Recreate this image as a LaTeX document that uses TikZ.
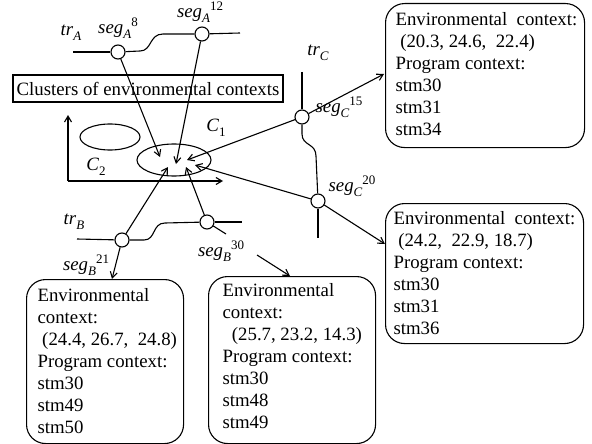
\documentclass[tikz,border=0pt]{standalone}
\usepackage{fontspec}
\setmainfont{Liberation Serif}
\usetikzlibrary{arrows.meta,shapes.geometric}

% italic name with a lowered subscript and a raised index, as in seg_A^8
\newcommand\lowsub[1]{\raisebox{-5pt}{\fontsize{13}{13}\selectfont\itshape #1}}
\newcommand\highsup[1]{\raisebox{7pt}{\fontsize{13}{13}\selectfont #1}}
\newcommand\seglab[2]{\textit{seg}\lowsub{#1}\highsup{#2}}
\newcommand\trlab[1]{\textit{tr}\lowsub{#1}}
\newcommand\clab[1]{\textit{C}\lowsub{\upshape #1}}
\newcommand\lead{\hspace*{0.25em}}

\begin{document}
\begin{tikzpicture}[x=1pt,y=-1pt,
  line width=1.1pt,
  every node/.style={font=\fontsize{18.8}{22}\selectfont},
  segpt/.style={circle,draw,fill=white,minimum size=14pt,inner sep=0pt},
  arr/.style={-{Straight Barb[length=6pt,width=7pt]}},
  ctxframe/.style={draw,rounded corners=19pt,anchor=north west,inner sep=0pt},
  ctxtext/.style={align=left,anchor=north west,inner sep=0pt},
  lab/.style={inner sep=0pt}]
\useasboundingbox (0,0) rectangle (592,444);

% cluster space: axes and the two clusters
\coordinate (ax0) at (68,181);
\coordinate (axy) at (68,115);
\coordinate (axx) at (223,181);
\draw[arr] (ax0) -- (axy);
\draw[arr] (ax0) -- (axx);
\node[ellipse,draw,minimum width=60pt,minimum height=26pt,inner sep=0pt] (C2) at (110,137) {};
\node[ellipse,draw,minimum width=74pt,minimum height=32pt,inner sep=0pt] (C1) at (174,160) {};
\node[lab] (C1l) at (216,128) {\clab{1}};
\node[lab] (C2l) at (96,167) {\clab{2}};

\node[draw,minimum width=270pt,minimum height=27pt,inner sep=0pt] (clusters) at (148,88.5)
  {Clusters of environmental contexts};

% trajectory A
\node[segpt] (a8) at (118,52) {};
\node[segpt] (a12) at (202,34) {};
\coordinate (trA0) at (73,52);
\coordinate (trA1) at (140,51);
\coordinate (trA2) at (163,34);
\coordinate (trA3) at (240,33);
\draw (trA0) -- (a8);
\draw (a8) -- (trA1) .. controls (152,51) and (149,34) .. (trA2) -- (a12);
\draw (a12) -- (trA3);
\node[lab] (trAl) at (71,33) {\trlab{A}};
\node[lab] (a8l) at (118,28) {\seglab{A}{8}};
\node[lab] (a12l) at (200,12) {\seglab{A}{12}};

% trajectory B
\node[segpt] (b21) at (122,240) {};
\node[segpt] (b30) at (207,222) {};
\coordinate (trB0) at (77,239);
\coordinate (trB1) at (144,240);
\coordinate (trB2) at (165,223);
\coordinate (trB3) at (242,222);
\coordinate (b30stub) at (226,234);
\draw (trB0) -- (b21);
\draw (b21) -- (trB1) .. controls (156,240) and (152,223) .. (trB2) -- (b30);
\draw (b30) -- (trB3);
\draw (b30) -- (b30stub);
\node[lab] (trBl) at (74,222) {\trlab{B}};
\node[lab] (b21l) at (86,265) {\seglab{B}{21}};
\node[lab] (b30l) at (221,251) {\seglab{B}{30}};

% trajectory C
\node[segpt] (c15) at (302,117) {};
\node[segpt] (c20) at (318,201) {};
\coordinate (trC0) at (302,72);
\coordinate (trC1) at (302,134);
\coordinate (trC2) at (316,156);
\coordinate (trC3) at (318,238);
\draw (trC0) -- (c15);
\draw (c15) -- (trC1) .. controls (302,146) and (316,143) .. (trC2) -- (c20);
\draw (c20) -- (trC3);
\node[lab] (trCl) at (318,53) {\trlab{C}};
\node[lab] (c15l) at (339,107) {\seglab{C}{15}};
\node[lab] (c20l) at (352,186) {\seglab{C}{20}};

% segments assigned to cluster C1
\coordinate (t8) at (160,157);
\coordinate (t12) at (176,164);
\coordinate (t15) at (187,160);
\coordinate (t20) at (195,165);
\coordinate (t21) at (168,167);
\coordinate (t30) at (186,167);
\draw[arr] (a8) -- (t8);
\draw[arr] (a12) -- (t12);
\draw[arr] (c15) -- (t15);
\draw[arr] (c20) -- (t20);
\draw[arr] (b21) -- (t21);
\draw[arr] (b30) -- (t30);

% context boxes: rounded frame plus left-aligned text block
\node[ctxframe,minimum width=199pt,minimum height=144pt] (ctx15) at (385,3) {};
\node[ctxtext] (ctx15t) at (395,12)
  {Environmental\ \ context:\\ \lead(20.3, 24.6,\ \ 22.4)\\ Program context:\\ stm30\\ stm31\\ stm34};
\node[ctxframe,minimum width=198pt,minimum height=140pt] (ctx20) at (385,203) {};
\node[ctxtext] (ctx20t) at (393,211)
  {Environmental\ \ context:\\ \lead(24.2,\ \ 22.9, 18.7)\\ Program context:\\ stm30\\ stm31\\ stm36};
\node[ctxframe,minimum width=157pt,minimum height=164pt] (ctx21) at (26,279) {};
\node[ctxtext] (ctx21t) at (37,288)
  {Environmental\\ context:\\ \lead(24.4, 26.7,\ \ 24.8)\\ Program context:\\ stm30\\ stm49\\ stm50};
\node[ctxframe,minimum width=167pt,minimum height=167pt] (ctx30) at (208,276) {};
\node[ctxtext] (ctx30t) at (222,283)
  {Environmental\\ context:\\ \lead\lead(25.7, 23.2, 14.3)\\ Program context:\\ stm30\\ stm48\\ stm49};

% links from segments to their contexts
\coordinate (e15) at (384,74);
\coordinate (e20) at (385,244);
\coordinate (e21) at (112,279);
\coordinate (s30) at (257,255);
\coordinate (e30) at (290,276);
\draw[arr] (c15) -- (e15);
\draw[arr] (c20) -- (e20);
\draw[arr] (b21) -- (e21);
\draw[arr] (s30) -- (e30);
\end{tikzpicture}
\end{document}
